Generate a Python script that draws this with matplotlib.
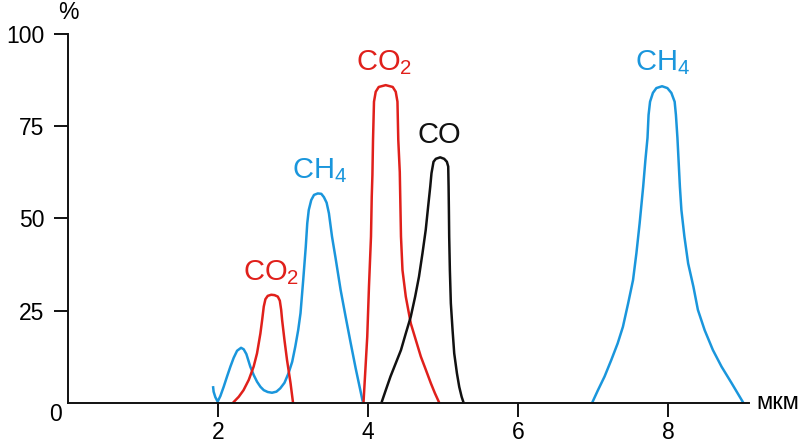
import matplotlib.pyplot as plt

plt.rcParams['font.family'] = ['Liberation Sans', 'DejaVu Sans']
plt.rcParams['mathtext.fontset'] = 'custom'
plt.rcParams['mathtext.rm'] = 'Liberation Sans'
plt.rcParams['mathtext.it'] = 'Liberation Sans'

BLUE = '#1a96dc'
RED = '#e0201b'
BLACK = '#111111'

# absorption bands (x in мкм, y in %)
ch4_a_x = [1.933, 1.941, 1.964, 1.995, 2.031, 2.075, 2.12, 2.165, 2.209, 2.254, 2.307,
           2.342, 2.378, 2.43, 2.476, 2.52, 2.566, 2.61, 2.663, 2.72, 2.779, 2.83,
           2.886, 2.94, 2.989, 3.03, 3.069, 3.10, 3.136, 3.17, 3.19, 3.21, 3.243,
           3.28, 3.33, 3.377, 3.412, 3.448, 3.479, 3.52, 3.568, 3.635, 3.702, 3.77,
           3.836, 3.93]
ch4_a_y = [4.5, 3.0, 1.5, 0.3, 1.8, 4.3, 7.1, 9.8, 12.2, 14.1, 14.9,
           14.5, 13.2, 9.8, 7.5, 5.7, 4.3, 3.4, 2.9, 2.7, 3.0, 3.9,
           5.4, 8.0, 11.1, 15.2, 19.7, 24.3, 33.3, 42.3, 48.7, 52.3, 55.0,
           56.4, 56.8, 56.7, 55.8, 54.3, 51.4, 45.1, 39.2, 30.6, 23.3, 16.1,
           9.3, 0.3]

co2_a_x = [2.20, 2.276, 2.34, 2.41, 2.475, 2.52, 2.565, 2.588, 2.61, 2.632, 2.663,
           2.709, 2.753, 2.797, 2.824, 2.842, 2.855, 2.886, 2.92, 2.967, 3.00]
co2_a_y = [0, 1.6, 3.4, 6.2, 9.8, 13.4, 18.8, 22.4, 26.1, 28.1, 29.0,
           29.3, 29.2, 28.8, 27.7, 25.2, 22.4, 17.0, 11.6, 5.3, 0]

co2_b_x = [3.94, 3.965, 3.99, 4.013, 4.04, 4.05, 4.059, 4.067, 4.080, 4.103, 4.143,
           4.236, 4.330, 4.370, 4.393, 4.404, 4.424, 4.44, 4.46, 4.504, 4.571,
           4.638, 4.705, 4.772, 4.838, 4.892, 4.95]
co2_b_y = [0, 8.9, 17.9, 31.5, 45.1, 55.9, 61.8, 71.3, 81.7, 84.4, 85.7,
           86.2, 85.7, 84.4, 81.7, 71.3, 62.6, 45.1, 36.0, 28.8, 21.5,
           17.0, 12.5, 8.9, 5.3, 2.6, 0]

co_x = [4.18, 4.237, 4.30, 4.37, 4.44, 4.504, 4.57, 4.629, 4.68, 4.727, 4.77, 4.802,
        4.83, 4.847, 4.874, 4.905, 4.963, 5.016, 5.052, 5.07, 5.075, 5.079, 5.083,
        5.092, 5.105, 5.128, 5.15, 5.186, 5.217, 5.249, 5.275]
co_y = [0, 3.4, 7.1, 10.7, 14.3, 18.8, 23.3, 28.8, 34.2, 40.6, 46.9, 53.2,
        58.6, 62.3, 65.4, 66.2, 66.6, 66.2, 65.4, 64.1, 58.6, 52.3, 45.1,
        36.0, 27.0, 19.7, 13.4, 8.0, 4.3, 1.6, 0]

ch4_b_x = [6.99, 7.067, 7.155, 7.245, 7.33, 7.40, 7.47, 7.535, 7.58, 7.623, 7.67,
           7.70, 7.728, 7.742, 7.762, 7.80, 7.846, 7.922, 7.993, 8.046, 8.09,
           8.107, 8.127, 8.16, 8.18, 8.22, 8.27, 8.34, 8.40, 8.49, 8.60, 8.715,
           8.85, 9.005]
ch4_b_y = [0, 3.4, 7.1, 11.6, 16.1, 20.6, 27.0, 33.3, 40.6, 48.7, 58.6,
           65.9, 71.9, 78.1, 81.7, 84.1, 85.4, 85.9, 85.4, 84.1, 81.7,
           78.1, 71.9, 58.6, 52.3, 45.1, 37.8, 31.5, 25.2, 19.7, 14.3, 9.8,
           5.3, 0]

x_ticks = [2, 4, 6, 8]
y_ticks = [25, 50, 75, 100]

fig = plt.figure(figsize=(8, 4.46), dpi=100)
ax = fig.add_axes([0.0851, 0.0971, 0.851, 0.826])

style = dict(lw=1.8, solid_joinstyle='round', solid_capstyle='butt')
ax.plot(ch4_a_x, ch4_a_y, color=BLUE, **style)
ax.plot(co2_a_x, co2_a_y, color=RED, **style)
ax.plot(co2_b_x, co2_b_y, color=RED, **style)
ax.plot(co_x, co_y, color=BLACK, **style)
ax.plot(ch4_b_x, ch4_b_y, color=BLUE, **style)

ax.set_xlim(0, 9.08)
ax.set_ylim(0, 100)
for s in ['top', 'right']:
    ax.spines[s].set_visible(False)
for s in ['left', 'bottom']:
    ax.spines[s].set_linewidth(1.4)
    ax.spines[s].set_color('#111111')

ax.set_xticks(x_ticks)
ax.set_yticks(y_ticks)
ax.tick_params(axis='both', length=10, width=1.4, color='#111111',
               labelsize=16.5, pad=7)
ax.tick_params(axis='x', pad=3)

# axis annotations
ax.text(-0.165, -3.2, '0', fontsize=16.5, ha='center', va='center')
ax.text(0.0, 106.0, '%', fontsize=16.5, ha='center', va='center', clip_on=False)
ax.text(9.18, 0, 'мкм', fontsize=17, ha='left', va='center', clip_on=False)

# band labels
lab = dict(fontsize=21, ha='center', va='bottom')
ax.text(3.35, 59, 'CH$_4$', color=BLUE, **lab)
ax.text(2.71, 31.5, 'CO$_2$', color=RED, **lab)
ax.text(4.22, 88.5, 'CO$_2$', color=RED, **lab)
ax.text(4.95, 69, 'CO', color=BLACK, **lab)
ax.text(7.93, 88.5, 'CH$_4$', color=BLUE, **lab)

fig.savefig('out.png', dpi=100)
